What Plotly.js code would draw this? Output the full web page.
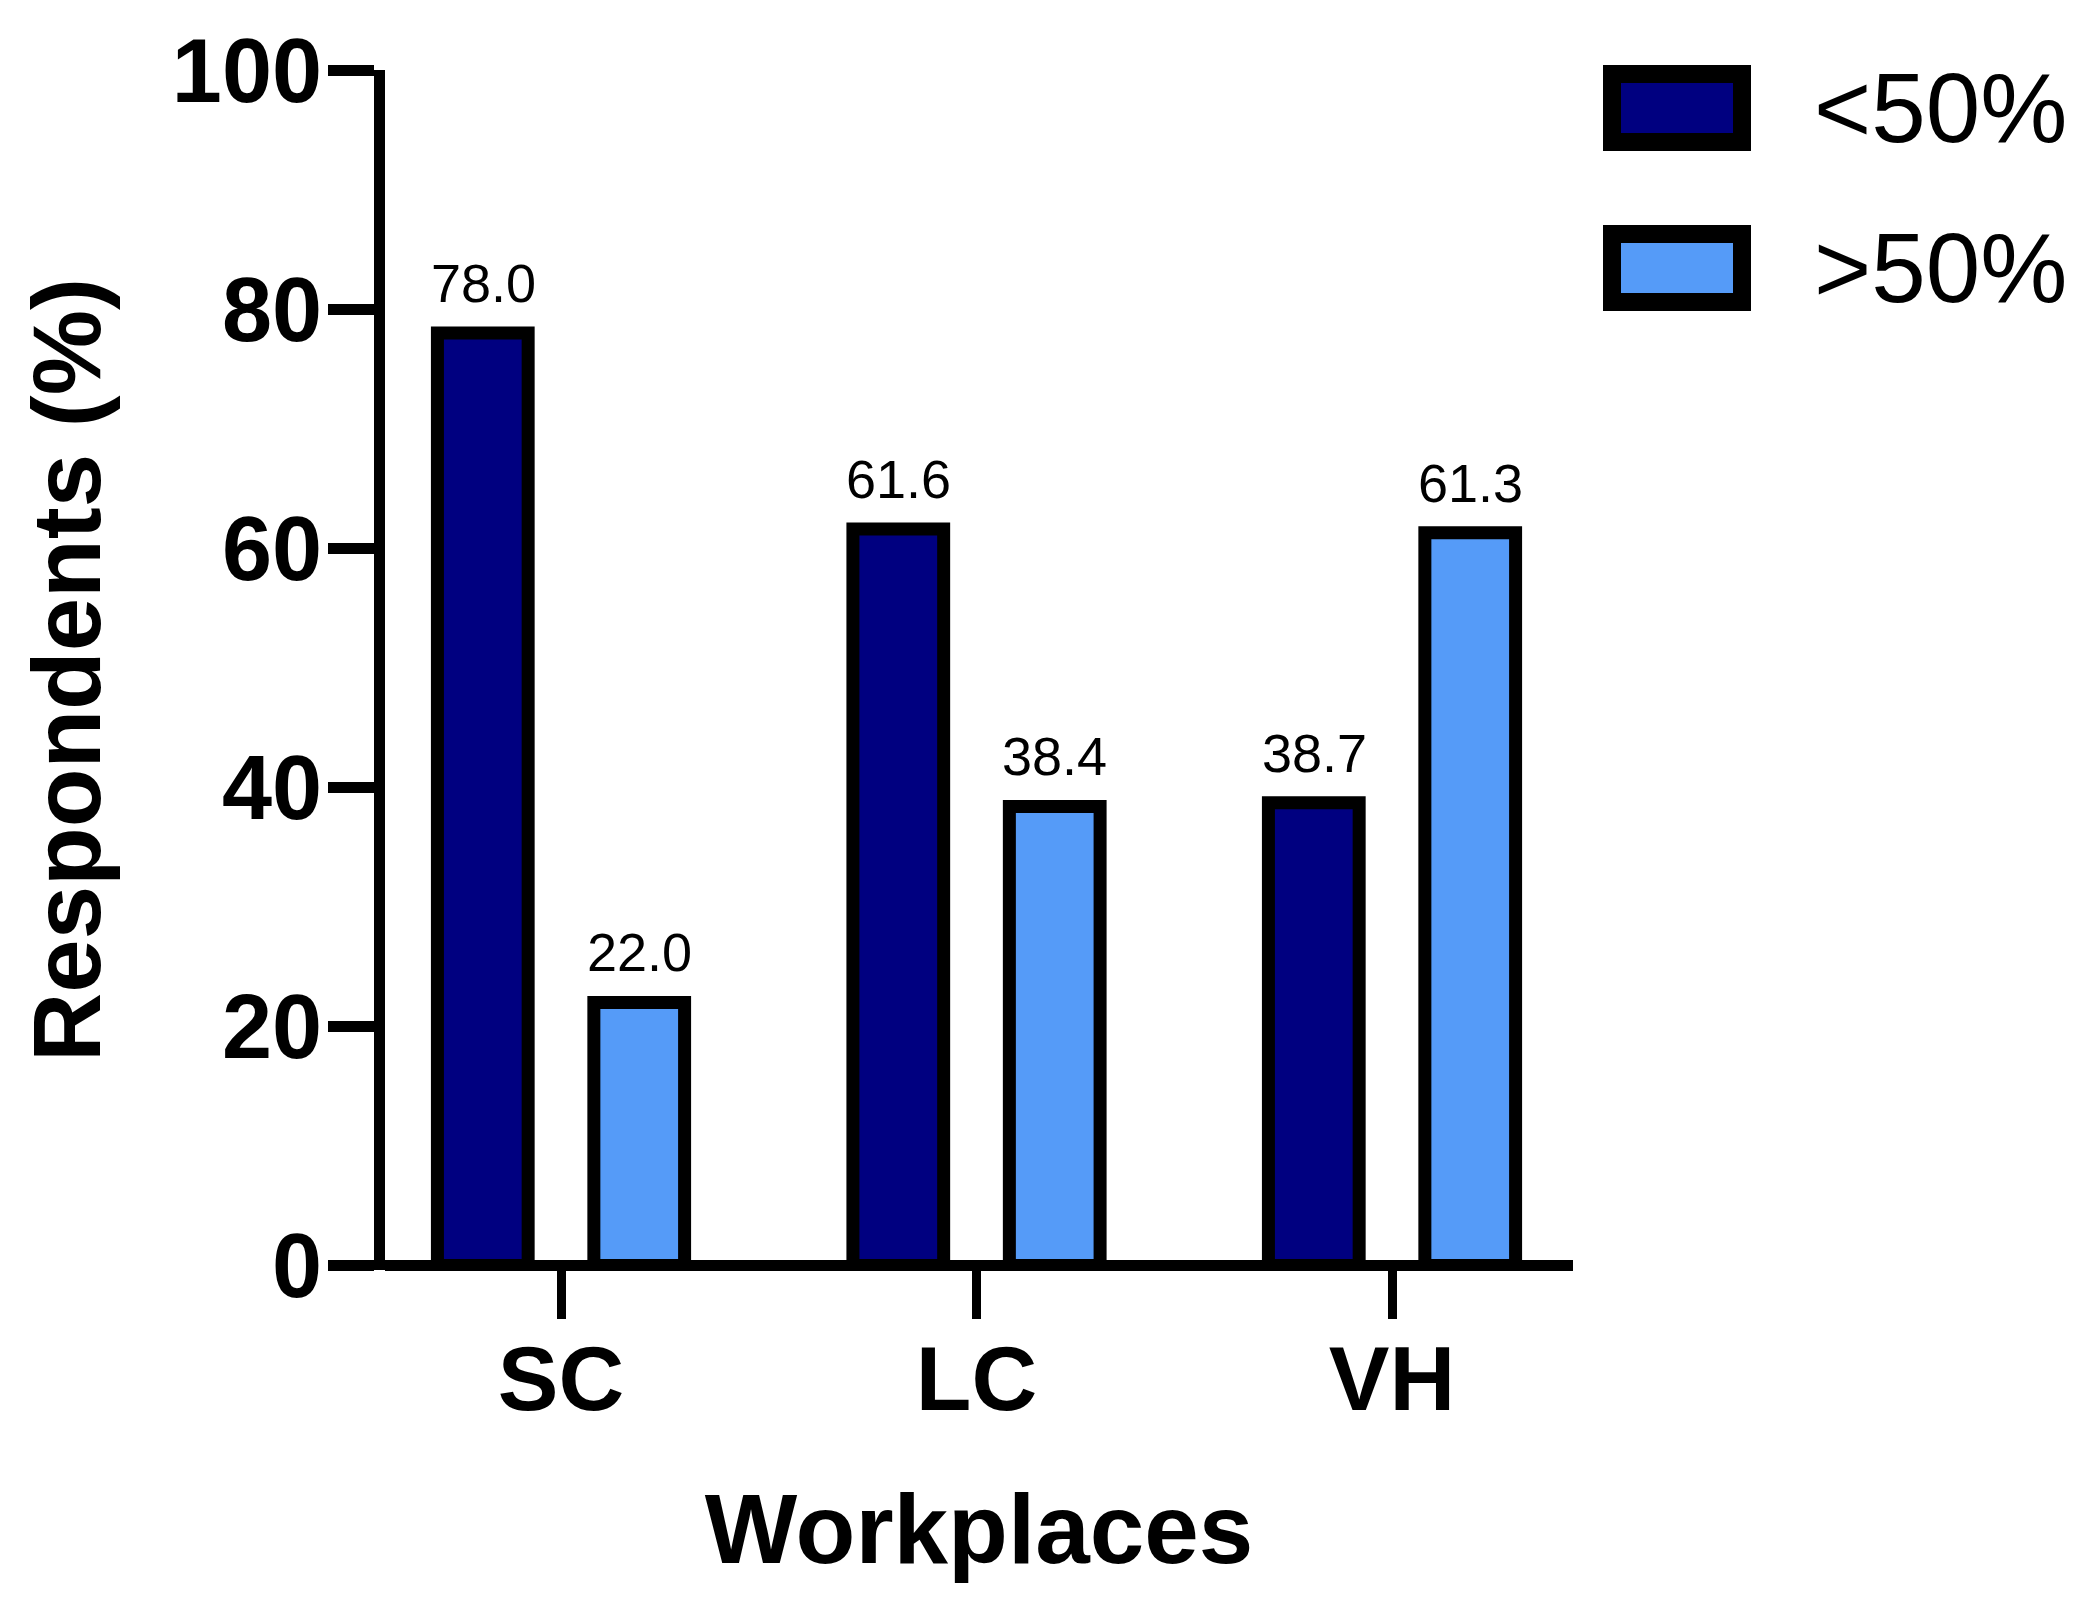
<!DOCTYPE html>
<html>
<head>
<meta charset="utf-8">
<script src="https://cdn.plot.ly/plotly-3.0.1.min.js"></script>
<style>
  html, body { margin: 0; padding: 0; background: #ffffff; }
  #chart { width: 2083px; height: 1622px; }
</style>
</head>
<body>
<div id="chart"></div>
<script>
// ---- data ----
const categories = ["SC", "LC", "VH"];
const seriesNames = ["<50%", ">50%"];
const below50 = [78.0, 61.6, 38.7];
const above50 = [22.0, 38.4, 61.3];
const yTickVals = [0, 20, 40, 60, 80, 100];
const xTitle = "Workplaces";
const yTitle = "Respondents (%)";

// ---- style ----
const colors = ["#000080", "#559BF8"];
const FONT = "Arial, 'Liberation Sans', Helvetica, sans-serif";
const W = 2083, H = 1622;
const M = { l: 385, r: 510, t: 70, b: 352 };
const PW = W - M.l - M.r, PH = H - M.t - M.b;
const px = v => (v - M.l) / PW;        // pixel x -> paper x
const py = v => (M.t + PH - v) / PH;   // pixel y -> paper y

const series = [below50, above50];
const traces = series.map((vals, i) => ({
  type: "bar",
  name: seriesNames[i],
  x: categories,
  y: vals,
  marker: { color: colors[i], line: { color: "#000000", width: 13 } },
  showlegend: false,
  hoverinfo: "x+y+name"
}));

// value labels
const annotations = [];
series.forEach((vals, i) => {
  vals.forEach((v, j) => {
    annotations.push({
      x: categories[j], y: v, xref: "x", yref: "y",
      text: v.toFixed(1), showarrow: false,
      xanchor: "center", yanchor: "bottom",
      xshift: (i === 0 ? -78 : 78), yshift: 18,
      font: { family: FONT, size: 54, color: "#000000" }
    });
  });
});

// custom legend (large framed swatches)
const shapes = [];
const legendRows = [108, 268];
seriesNames.forEach((nm, i) => {
  const cy = legendRows[i];
  shapes.push({
    type: "rect", xref: "paper", yref: "paper",
    x0: px(1612), x1: px(1742), y0: py(cy - 34), y1: py(cy + 34),
    fillcolor: colors[i], line: { color: "#000000", width: 18 }
  });
  annotations.push({
    xref: "paper", yref: "paper", x: px(1812), y: py(cy),
    xanchor: "left", yanchor: "middle", showarrow: false,
    text: nm.replace("<", "&lt;").replace(">", "&gt;"),
    font: { family: FONT, size: 98, color: "#000000" }
  });
});

const layout = {
  width: W, height: H,
  margin: M,
  paper_bgcolor: "#ffffff", plot_bgcolor: "#ffffff",
  barmode: "group",
  bargap: 0.247,
  bargroupgap: 0.42,
  showlegend: false,
  font: { family: FONT, color: "#000000" },
  xaxis: {
    type: "category",
    range: [-0.4236, 2.4356],
    showline: false,
    ticks: "outside", ticklen: 48, tickwidth: 9, tickcolor: "#000000",
    ticklabelstandoff: -18,
    showgrid: false, zeroline: false,
    tickfont: { family: FONT, size: 91, weight: "bold", color: "#000000" },
    title: { text: xTitle, standoff: 66,
             font: { family: FONT, size: 98, weight: "bold", color: "#000000" } },
    automargin: false, fixedrange: true
  },
  yaxis: {
    range: [-0.38, 100],
    tickvals: yTickVals,
    showline: true, linecolor: "#000000", linewidth: 11,
    ticks: "outside", ticklen: 46, tickwidth: 11, tickcolor: "#000000",
    ticklabelstandoff: -12,
    showgrid: false,
    zeroline: true, zerolinecolor: "#000000", zerolinewidth: 11,
    tickfont: { family: FONT, size: 90, weight: "bold", color: "#000000" },
    title: { text: yTitle, standoff: 44,
             font: { family: FONT, size: 96, weight: "bold", color: "#000000" } },
    automargin: false, fixedrange: true
  },
  annotations: annotations,
  shapes: shapes
};

Plotly.newPlot("chart", traces, layout, { displayModeBar: false, staticPlot: true });
</script>
</body>
</html>
